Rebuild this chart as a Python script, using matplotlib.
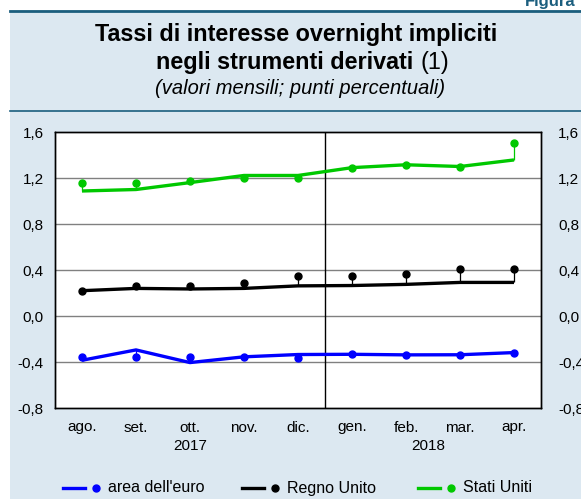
import matplotlib
matplotlib.use("Agg")
import matplotlib.pyplot as plt
from matplotlib.patches import Rectangle
from matplotlib.lines import Line2D
import matplotlib.transforms as mtransforms
import numpy as np

plt.rcParams['font.family'] = ['Liberation Sans', 'DejaVu Sans']

months = ["ago.", "set.", "ott.", "nov.", "dic.", "gen.", "feb.", "mar.", "apr."]
years = ["2017", "2018"]

euro_line = [-0.385, -0.295, -0.405, -0.355, -0.335, -0.333, -0.338, -0.337, -0.318]
euro_dots = [-0.357, -0.360, -0.357, -0.355, -0.365, -0.333, -0.338, -0.337, -0.318]
uk_line = [0.220, 0.240, 0.235, 0.240, 0.262, 0.265, 0.275, 0.292, 0.292]
uk_dots = [0.220, 0.260, 0.265, 0.285, 0.350, 0.350, 0.365, 0.410, 0.410]
us_line = [1.087, 1.100, 1.160, 1.222, 1.222, 1.290, 1.315, 1.300, 1.357]
us_dots = [1.157, 1.157, 1.175, 1.200, 1.200, 1.290, 1.315, 1.300, 1.507]

series = [
    ("area dell'euro", euro_line, euro_dots, "#0000ff"),
    ("Regno Unito", uk_line, uk_dots, "#000000"),
    ("Stati Uniti", us_line, us_dots, "#00c800"),
]

W, H = 581, 499
fig = plt.figure(figsize=(W / 100, H / 100), dpi=100, facecolor="white")

def fx(px):
    return px / W

def fy(py):
    return 1 - py / H

panel_col = "#dce8f1"
rule_col = "#1b5e7e"
fig.patches.append(Rectangle((fx(10), 0), 1 - fx(10), fy(10), transform=fig.transFigure,
                             facecolor=panel_col, edgecolor="none", zorder=-10))
fig.add_artist(Line2D([fx(10), 1], [fy(10.5), fy(10.5)], transform=fig.transFigure,
                      color=rule_col, lw=2.0))
fig.add_artist(Line2D([fx(10), 1], [fy(110.5), fy(110.5)], transform=fig.transFigure,
                      color=rule_col, lw=1.2))
fig.text(fx(576), fy(6), "Figura", ha="right", va="baseline", fontsize=12,
         fontweight="bold", color=rule_col)

fig.text(fx(296), fy(35), "Tassi di interesse overnight impliciti", ha="center", va="center",
         fontsize=16.8, fontweight="bold")
fig.text(fx(420), fy(62), "negli strumenti derivati ", ha="right", va="center",
         fontsize=16.8, fontweight="bold")
fig.text(fx(420), fy(62), "(1)", ha="left", va="center", fontsize=16.8)
fig.text(fx(300), fy(88), "(valori mensili; punti percentuali)", ha="center", va="center",
         fontsize=14.5, style="italic")

ax = fig.add_axes([fx(55), fy(408), fx(486), (408 - 132) / H], zorder=1)
ax.set_facecolor("white")
x = np.arange(len(months))

for name, ln, dt, col in series:
    ax.plot(x, ln, color=col, lw=2.4, solid_capstyle="butt", zorder=3)
    ax.vlines(x, ln, dt, color=col, lw=0.9, zorder=2)
    ax.plot(x, dt, linestyle="none", marker="o", markersize=5, color=col, zorder=4)

ax.set_xlim(-0.5, len(months) - 0.5)
ax.set_ylim(-0.8, 1.6)
yt = [-0.8, -0.4, 0.0, 0.4, 0.8, 1.2, 1.6]
ylabels = [f"{v:.1f}".replace(".", ",") for v in yt]
ax.set_yticks(yt)
ax.set_yticklabels(ylabels)
for v in yt[1:-1]:
    ax.axhline(v, color="#808080", lw=1.0, zorder=1)
ax.axvline(4.5, color="black", lw=1.0, zorder=1)
ax.set_xticks(x)
ax.set_xticklabels(months)
ax.tick_params(axis="both", length=0, labelsize=11)
ax.tick_params(axis="y", pad=8)
ax.tick_params(axis="x", pad=9)
for sp in ax.spines.values():
    sp.set_color("black")
    sp.set_linewidth(1.0)

ax2 = ax.twinx()
ax2.set_ylim(ax.get_ylim())
ax2.set_yticks(yt)
ax2.set_yticklabels(ylabels)
ax2.tick_params(axis="y", length=0, labelsize=11, pad=12.5)
for sp in ax2.spines.values():
    sp.set_color("black")
    sp.set_linewidth(1.0)

off = mtransforms.ScaledTranslation(0, -31 / 100, fig.dpi_scale_trans)
ax.text(2, -0.8, years[0], transform=ax.transData + off, ha="center", va="top", fontsize=11)
ax.text(6.42, -0.8, years[1], transform=ax.transData + off, ha="center", va="top", fontsize=11)

leg_y = fy(488)
for (name, ln, dt, col), x0 in zip(series, [63, 242, 418]):
    fig.add_artist(Line2D([fx(x0), fx(x0 + 22)], [leg_y, leg_y], transform=fig.transFigure,
                          color=col, lw=2.4))
    fig.add_artist(Line2D([fx(x0 + 33)], [leg_y], transform=fig.transFigure, color=col,
                          marker="o", markersize=5, linestyle="none"))
    fig.text(fx(x0 + 45), leg_y, name, ha="left", va="center", fontsize=11.5)

fig.savefig("out.png", dpi=100, facecolor="white")
